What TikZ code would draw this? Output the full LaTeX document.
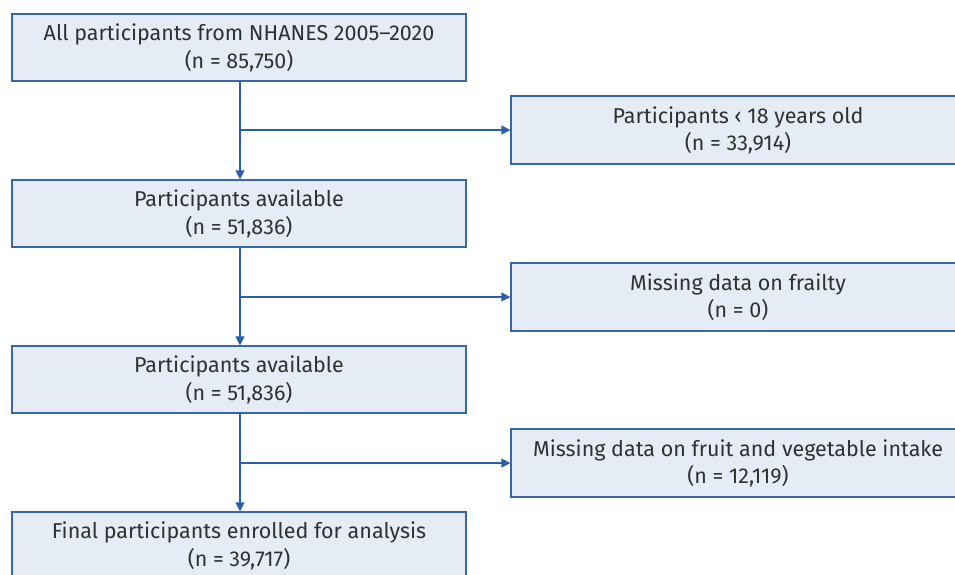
\documentclass[tikz,border=0pt]{standalone}
\usepackage{fontspec}
\setmainfont{Fira Sans}
\usetikzlibrary{arrows.meta}
\definecolor{boxline}{HTML}{3A66A6}
\definecolor{boxfill}{HTML}{E6ECF5}
\definecolor{arr}{HTML}{2B5FAA}
\definecolor{txt}{HTML}{303030}
\newcommand\boxtext[1]{\raisebox{-1.5pt}[\height][\depth]{\begin{tabular}{@{}c@{}}#1\end{tabular}}}
\begin{document}
\begin{tikzpicture}[x=1pt,y=-1pt,
  box/.style={draw=boxline,fill=boxfill,line width=1.2pt,text=txt,
    font=\fontsize{21.5}{27.5}\selectfont,inner sep=0pt},
  flow/.style={draw=arr,line width=1.2pt,-{Triangle[width=9pt,length=9pt]}}]
\useasboundingbox (0,0) rectangle (955,575);
\clip (0,0) rectangle (955,575);
\node[box,minimum width=454pt,minimum height=67pt] (a) at (239,47.5) {\boxtext{All participants from NHANES 2005–2020\\(n = 85,750)}};
\node[box,minimum width=454pt,minimum height=67pt] (b) at (239,213.5) {\boxtext{Participants available\\(n = 51,836)}};
\node[box,minimum width=454pt,minimum height=67pt] (c) at (239,379.5) {\boxtext{Participants available\\(n = 51,836)}};
\node[box,minimum width=454pt,minimum height=67pt] (d) at (239,545.5) {\boxtext{Final participants enrolled for analysis\\(n = 39,717)}};
\node[box,minimum width=454pt,minimum height=68pt] (r1) at (738,130) {\boxtext{Participants \char"2039\ 18 years old\\(n = 33,914)}};
\node[box,minimum width=454pt,minimum height=68pt] (r2) at (738,297) {\boxtext{Missing data on frailty\\(n = 0)}};
\node[box,minimum width=454pt,minimum height=68pt] (r3) at (738,463) {\boxtext{Missing data on fruit and vegetable intake\\(n = 12,119)}};
\draw[flow] (a.south -| 240,0) -- (b.north -| 240,0);
\draw[flow] (b.south -| 240,0) -- (c.north -| 240,0);
\draw[flow] (c.south -| 240,0) -- (d.north -| 240,0);
\coordinate (j1) at (240,130);
\coordinate (j2) at (240,297);
\coordinate (j3) at (240,463);
\draw[flow] (j1) -- (r1.west);
\draw[flow] (j2) -- (r2.west);
\draw[flow] (j3) -- (r3.west);
\end{tikzpicture}
\end{document}
